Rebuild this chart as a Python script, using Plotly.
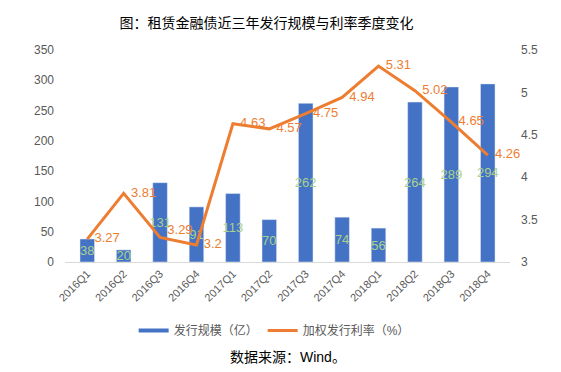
import plotly.graph_objects as go

quarters = ["2016Q1", "2016Q2", "2016Q3", "2016Q4", "2017Q1", "2017Q2",
            "2017Q3", "2017Q4", "2018Q1", "2018Q2", "2018Q3", "2018Q4"]
issue_size = [38, 20, 131, 91, 113, 70, 262, 74, 56, 264, 289, 294]
weighted_rate = [3.27, 3.81, 3.29, 3.2, 4.63, 4.57, 4.75, 4.94, 5.31, 5.02, 4.65, 4.26]

FONT = "Liberation Sans, Noto Sans CJK SC, sans-serif"
BLUE = "#4472C4"
ORANGE = "#ED7D31"
GRAY = "#595959"

label_pos = ["middle right"] * len(weighted_rate)
label_pos[2] = "top right"

fig = go.Figure()
fig.add_trace(go.Bar(
    x=quarters, y=issue_size, name="发行规模（亿）", marker_color=BLUE,
    width=0.4, text=[str(v) for v in issue_size], textposition="inside",
    insidetextanchor="middle", constraintext="none", textangle=0, cliponaxis=False,
    textfont=dict(color="#A9D18E", size=13, family=FONT), showlegend=False,
))
fig.add_trace(go.Scatter(
    x=quarters, y=weighted_rate, yaxis="y2", mode="lines+text",
    line=dict(color=ORANGE, width=3), text=[f"  {v:g}" for v in weighted_rate],
    textposition=label_pos, textfont=dict(color=ORANGE, size=13, family=FONT),
    showlegend=False, cliponaxis=False,
))
# legend entries (Excel-style line swatches)
fig.add_trace(go.Scatter(x=[None], y=[None], mode="lines", name="发行规模（亿）",
                         line=dict(color=BLUE, width=4)))
fig.add_trace(go.Scatter(x=[None], y=[None], mode="lines", name="加权发行利率（%）",
                         yaxis="y2", line=dict(color=ORANGE, width=3)))

fig.update_layout(
    width=561, height=372,
    margin=dict(l=65, r=51, t=50, b=110),
    paper_bgcolor="white", plot_bgcolor="white",
    font=dict(family=FONT, color=GRAY, size=12),
    title=dict(text="图：租赁金融债近三年发行规模与利率季度变化", x=0.475, xref="container",
               y=0.95, yref="container", xanchor="center",
               font=dict(size=14, color="#000000", family=FONT)),
    xaxis=dict(type="category", tickangle=-45, showline=True, linecolor="#D9D9D9",
               linewidth=1, showgrid=False, ticks="", tickfont=dict(size=11, color=GRAY)),
    yaxis=dict(range=[0, 350], dtick=50, showgrid=False, zeroline=False,
               tickfont=dict(size=12, color=GRAY), ticklabelstandoff=10),
    yaxis2=dict(range=[3, 5.5], dtick=0.5, overlaying="y", side="right",
                showgrid=False, zeroline=False, tickfont=dict(size=12, color=GRAY),
                ticklabelstandoff=10),
    legend=dict(orientation="h", x=0.47, xanchor="center", y=-0.255, yanchor="top",
                font=dict(size=12, color=GRAY, family=FONT), itemwidth=30),
    showlegend=True,
    annotations=[dict(text="数据来源：Wind。", x=0.5, xref="paper", xanchor="center",
                      y=-0.448, yref="paper", yanchor="middle", showarrow=False,
                      font=dict(size=14, color="#000000", family=FONT))],
)
fig.write_html("out.html", config={"displayModeBar": False},
               post_script="document.body.style.margin='0';")
